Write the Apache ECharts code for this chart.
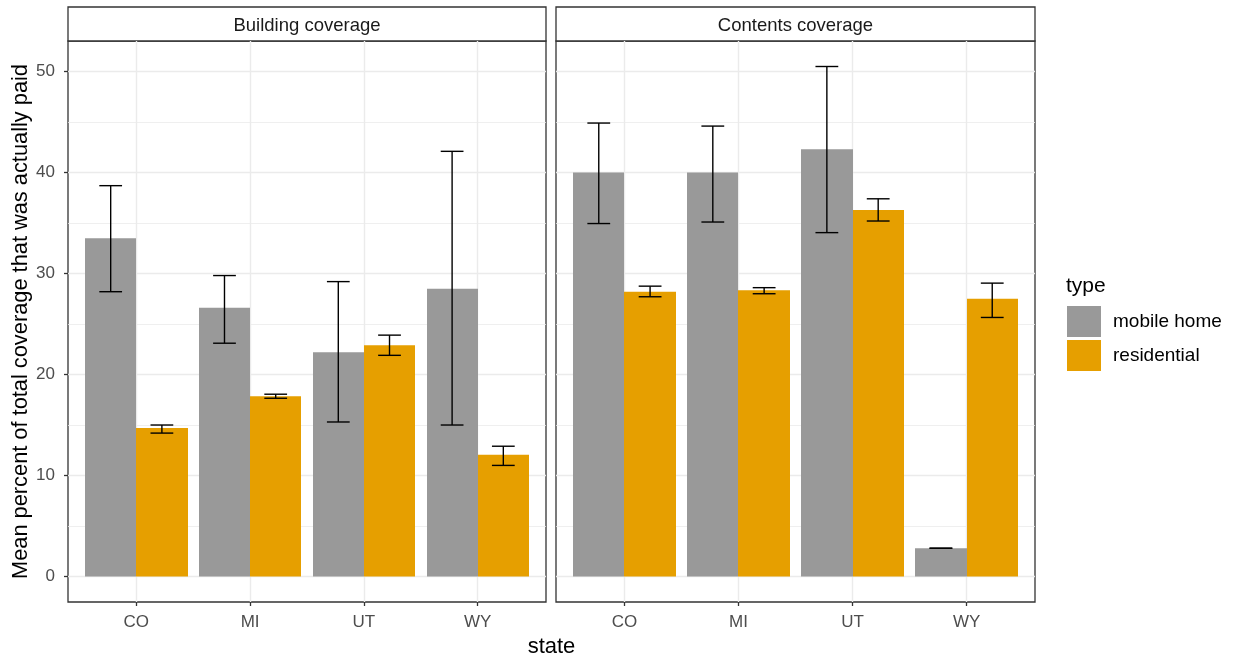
<!DOCTYPE html>
<html>
<head>
<meta charset="utf-8">
<script src="https://cdn.jsdelivr.net/npm/echarts@6/dist/echarts.min.js"></script>
<style>
  html, body { margin: 0; padding: 0; background: #ffffff; }
  #chart { width: 1234px; height: 658px; }
</style>
</head>
<body>
<div id="chart"></div>
<script>
// ---- data ----
const states = ['CO', 'MI', 'UT', 'WY'];
const facets = ['Building coverage', 'Contents coverage'];
const types = ['mobile home', 'residential'];

// Building coverage: mean and error-bar limits per state
const buildingMobileMean = [33.5, 26.6, 22.2, 28.5];
const buildingMobileLow  = [28.2, 23.1, 15.3, 15.0];
const buildingMobileHigh = [38.7, 29.8, 29.2, 42.1];
const buildingResidentialMean = [14.7, 17.85, 22.9, 12.05];
const buildingResidentialLow  = [14.2, 17.65, 21.9, 11.0];
const buildingResidentialHigh = [15.0, 18.05, 23.9, 12.9];

// Contents coverage
const contentsMobileMean = [40.0, 40.0, 42.3, 2.8];
const contentsMobileLow  = [34.95, 35.1, 34.05, 2.8];
const contentsMobileHigh = [44.9, 44.6, 50.5, 2.8];
const contentsResidentialMean = [28.2, 28.35, 36.3, 27.5];
const contentsResidentialLow  = [27.7, 28.0, 35.2, 25.65];
const contentsResidentialHigh = [28.75, 28.6, 37.4, 29.05];

const yTicks = [0, 10, 20, 30, 40, 50];
const yMinorTicks = [5, 15, 25, 35, 45];

// ---- styling / layout ----
const typeColors = ['#999999', '#E69F00'];
const FONT = "'Liberation Sans', Arial, sans-serif";
const GRID_LINE = '#EBEBEB';
const DARK = '#333333';
const PANELS = [
  { left: 68, width: 478 },
  { left: 556, width: 479 }
];
const STRIP_TOP = 7;
const PANEL_TOP = 41;
const PANEL_BOTTOM = 602;
const DODGE = 0.9;
const BAR_W = DODGE / 2;
const CAP_W = 0.2;

const facetData = [
  [
    [buildingMobileMean, buildingMobileLow, buildingMobileHigh],
    [buildingResidentialMean, buildingResidentialLow, buildingResidentialHigh]
  ],
  [
    [contentsMobileMean, contentsMobileLow, contentsMobileHigh],
    [contentsResidentialMean, contentsResidentialLow, contentsResidentialHigh]
  ]
];

// shared y range with 5% expansion on both sides
const allHigh = facetData.flat().map(d => d[2]).flat().concat(facetData.flat().map(d => d[0]).flat());
const yTop = Math.max(...allHigh);
const yPad = yTop * 0.05;
const Y_MIN = -yPad, Y_MAX = yTop + yPad;
const X_MIN = -0.6, X_MAX = states.length - 1 + 0.6;
const stateIdx = states.map((s, i) => i);

function barRenderer(offset, color) {
  return function (params, api) {
    const x = api.value(0) + offset;
    const mean = api.value(1), lo = api.value(2), hi = api.value(3);
    const tl = api.coord([x - BAR_W / 2, mean]);
    const br = api.coord([x + BAR_W / 2, 0]);
    const x0 = Math.round(tl[0]), x1 = Math.round(br[0]);
    const cx = api.coord([x, 0])[0];
    const hiY = api.coord([x, hi])[1];
    const loY = api.coord([x, lo])[1];
    const capL = api.coord([x - CAP_W / 2, 0])[0];
    const capR = api.coord([x + CAP_W / 2, 0])[0];
    const ls = { stroke: '#000000', lineWidth: 1.4 };
    return {
      type: 'group',
      children: [
        { type: 'rect', shape: { x: x0, y: tl[1], width: x1 - x0, height: br[1] - tl[1] }, style: { fill: color } },
        { type: 'line', z2: 5, shape: { x1: cx, y1: hiY, x2: cx, y2: loY }, style: ls },
        { type: 'line', z2: 5, shape: { x1: capL, y1: hiY, x2: capR, y2: hiY }, style: ls },
        { type: 'line', z2: 5, shape: { x1: capL, y1: loY, x2: capR, y2: loY }, style: ls }
      ]
    };
  };
}

const grids = [], xAxes = [], yAxes = [], series = [], graphics = [];

PANELS.forEach((p, f) => {
  grids.push({
    left: p.left, width: p.width, top: PANEL_TOP, height: PANEL_BOTTOM - PANEL_TOP,
    show: true, borderColor: DARK, borderWidth: 1.3, backgroundColor: 'transparent'
  });
  xAxes.push({
    type: 'value', gridIndex: f, min: X_MIN, max: X_MAX, position: 'bottom',
    axisLine: { show: false, onZero: false },
    axisTick: { show: true, length: 4, customValues: stateIdx, lineStyle: { color: DARK, width: 1.3 } },
    axisLabel: { customValues: stateIdx, formatter: v => states[v], fontSize: 17, color: '#4D4D4D', fontFamily: FONT, margin: 12 },
    splitLine: { show: true, lineStyle: { color: GRID_LINE, width: 1.4 } }
  });
  // major y axis
  yAxes.push({
    type: 'value', gridIndex: f, min: Y_MIN, max: Y_MAX, position: 'left',
    axisLine: { show: false, onZero: false },
    axisTick: { show: f === 0, length: 4, customValues: yTicks, lineStyle: { color: DARK, width: 1.3 } },
    axisLabel: { show: f === 0, customValues: yTicks, fontSize: 17, color: '#4D4D4D', fontFamily: FONT, margin: 13 },
    splitLine: { show: true, lineStyle: { color: GRID_LINE, width: 1.4 } }
  });
  // minor y grid lines
  yAxes.push({
    type: 'value', gridIndex: f, min: Y_MIN, max: Y_MAX, position: 'right',
    axisLine: { show: false, onZero: false },
    axisTick: { show: false, customValues: yMinorTicks },
    axisLabel: { show: false, customValues: yMinorTicks },
    splitLine: { show: true, lineStyle: { color: GRID_LINE, width: 0.8 } }
  });

  types.forEach((t, k) => {
    const [mean, lo, hi] = facetData[f][k];
    series.push({
      type: 'custom',
      name: t,
      xAxisIndex: f,
      yAxisIndex: f * 2,
      z: 3,
      itemStyle: { color: typeColors[k] },
      renderItem: barRenderer((k - 0.5) * BAR_W, typeColors[k]),
      encode: { x: 0, y: [1, 2, 3] },
      data: stateIdx.map(i => [i, mean[i], lo[i], hi[i]])
    });
  });

  // facet strip
  graphics.push({
    type: 'rect', shape: { x: p.left, y: STRIP_TOP, width: p.width, height: PANEL_TOP - STRIP_TOP },
    style: { fill: '#ffffff', stroke: DARK, lineWidth: 1.3 }
  });
  graphics.push({
    type: 'text', x: p.left + p.width / 2, y: (STRIP_TOP + PANEL_TOP) / 2 + 2,
    style: { text: facets[f], fontSize: 18.5, fill: '#1A1A1A', fontFamily: FONT, align: 'center', verticalAlign: 'middle' }
  });
});

// axis titles and legend title
graphics.push({
  type: 'text', x: (PANELS[0].left + PANELS[1].left + PANELS[1].width) / 2, y: 647,
  style: { text: 'state', fontSize: 22, fill: '#000000', fontFamily: FONT, align: 'center', verticalAlign: 'middle' }
});
graphics.push({
  type: 'text', x: 21, y: (PANEL_TOP + PANEL_BOTTOM) / 2, rotation: Math.PI / 2,
  style: { text: 'Mean percent of total coverage that was actually paid', fontSize: 21.8, fill: '#000000', fontFamily: FONT, align: 'center', verticalAlign: 'middle' }
});
graphics.push({
  type: 'text', x: 1066, y: 286,
  style: { text: 'type', fontSize: 21, fill: '#000000', fontFamily: FONT, align: 'left', verticalAlign: 'middle' }
});

const chart = echarts.init(document.getElementById('chart'), null, { renderer: 'canvas' });
chart.setOption({
  animation: false,
  backgroundColor: '#ffffff',
  grid: grids,
  xAxis: xAxes,
  yAxis: yAxes,
  legend: {
    orient: 'vertical', left: 1067, top: 306, padding: 0,
    itemWidth: 34, itemHeight: 31, itemGap: 3,
    data: types.map(t => ({ name: t, icon: 'rect' })),
    textStyle: { fontSize: 19, color: '#000000', fontFamily: FONT, padding: [2, 0, 0, 7] },
    selectedMode: false
  },
  graphic: graphics,
  series: series
});
</script>
</body>
</html>
